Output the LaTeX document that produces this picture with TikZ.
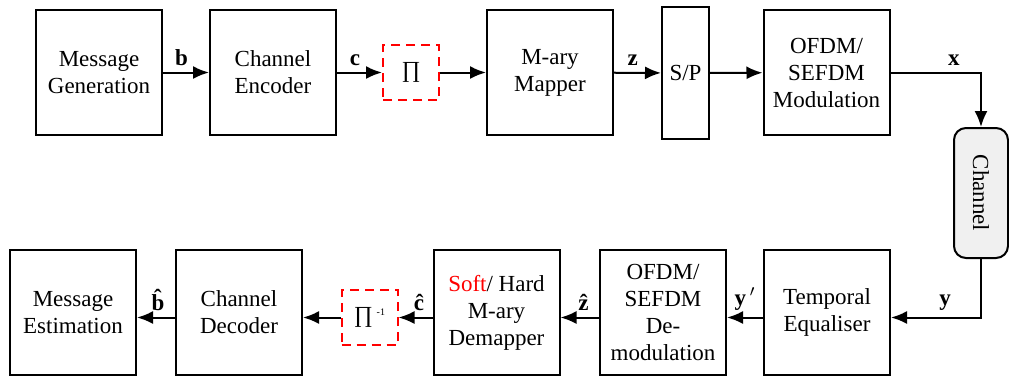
\documentclass[tikz,border=0pt]{standalone}
\usepackage{fontspec}
\setmainfont{Liberation Serif}
\usetikzlibrary{arrows.meta}

\begin{document}
\begin{tikzpicture}[x=0.5pt, y=-0.5pt, >={Latex[length=8pt, width=6.5pt]},
  font=\fontsize{11.5}{13.5}\selectfont, line width=1pt,
  block/.style={draw, minimum width=63pt, minimum height=62.5pt, align=center, inner sep=0pt},
  ileave/.style={draw=red, dash pattern=on 4.5pt off 3pt, minimum width=28pt, minimum height=27.5pt, inner sep=0pt},
  chbox/.style={draw, rounded corners=6pt, fill=black!6, minimum width=27pt, minimum height=65pt, inner sep=0pt},
  lbl/.style={font=\fontsize{11.5}{13.5}\selectfont\bfseries, inner sep=3pt},
  low/.style={yshift=-2.5pt}]
\useasboundingbox (0,0) rectangle (1009,377);

%% ===================== transmitter =====================
\node[block] (gen) at (99,72.5) {Message\\Generation};
\node[block] (enc) at (273,72.5) {Channel\\Encoder};
\node[ileave] (pi) at (411,72.5) {∏};
\node[block] (map) at (550,72.5) {M-ary\\Mapper};
\node[block, minimum width=23.5pt, minimum height=66pt] (sp) at (685.5,73) {S/P};
\node[block] (mod) at (826.5,72.5) {OFDM/\\SEFDM\\Modulation};

\draw[->] (gen) -- node[lbl, above, pos=0.4] {b} (enc);
\draw[->] (enc) -- node[lbl, above, pos=0.4] {c} (pi);
\draw[->] (pi) -- (map);
\draw[->] (map) -- node[lbl, above, pos=0.4] {z} (sp);
\draw[->] (sp) -- (mod);

%% channel
\node[chbox] (chan) at (981,193) {\rotatebox{-90}{Channel}};
\draw[->] (mod.east) -| node[lbl, above, pos=0.35] {x} (chan.north);

%% ===================== receiver =====================
\node[block] (teq) at (827,312.5) {Temporal\\Equaliser};
\node[block] (dem) at (663,312.5) {OFDM/\\SEFDM\\De-\\modulation};
\node[block] (demap) at (496.5,312.5) {\textcolor{red}{Soft}/ Hard\\M-ary\\Demapper};
\node[ileave] (dpi) at (369.5,317.5)
  {∏\,\raisebox{0.7ex}{\fontsize{5}{6}\selectfont -1}};
\node[block] (dec) at (239,312.5) {Channel\\Decoder};
\node[block] (est) at (73,312.5) {Message\\Estimation};

\draw[->] (chan.south) |- node[lbl, above, pos=0.7] {y} ([low]teq.east);
\draw[->] ([low]teq.west) -- node[lbl, above, pos=0.5] {y\,$^{\prime}$} ([low]dem.east);
\draw[->] ([low]dem.west) -- node[lbl, above, pos=0.4] {\^{z}} ([low]demap.east);
\draw[->] ([low]demap.west) -- node[lbl, above, pos=0.4] {\^{c}} (dpi);
\draw[->] (dpi) -- ([low]dec.east);
\draw[->] ([low]dec.west) -- node[lbl, above, pos=0.45] {\^{b}} ([low]est.east);

\end{tikzpicture}
\end{document}
